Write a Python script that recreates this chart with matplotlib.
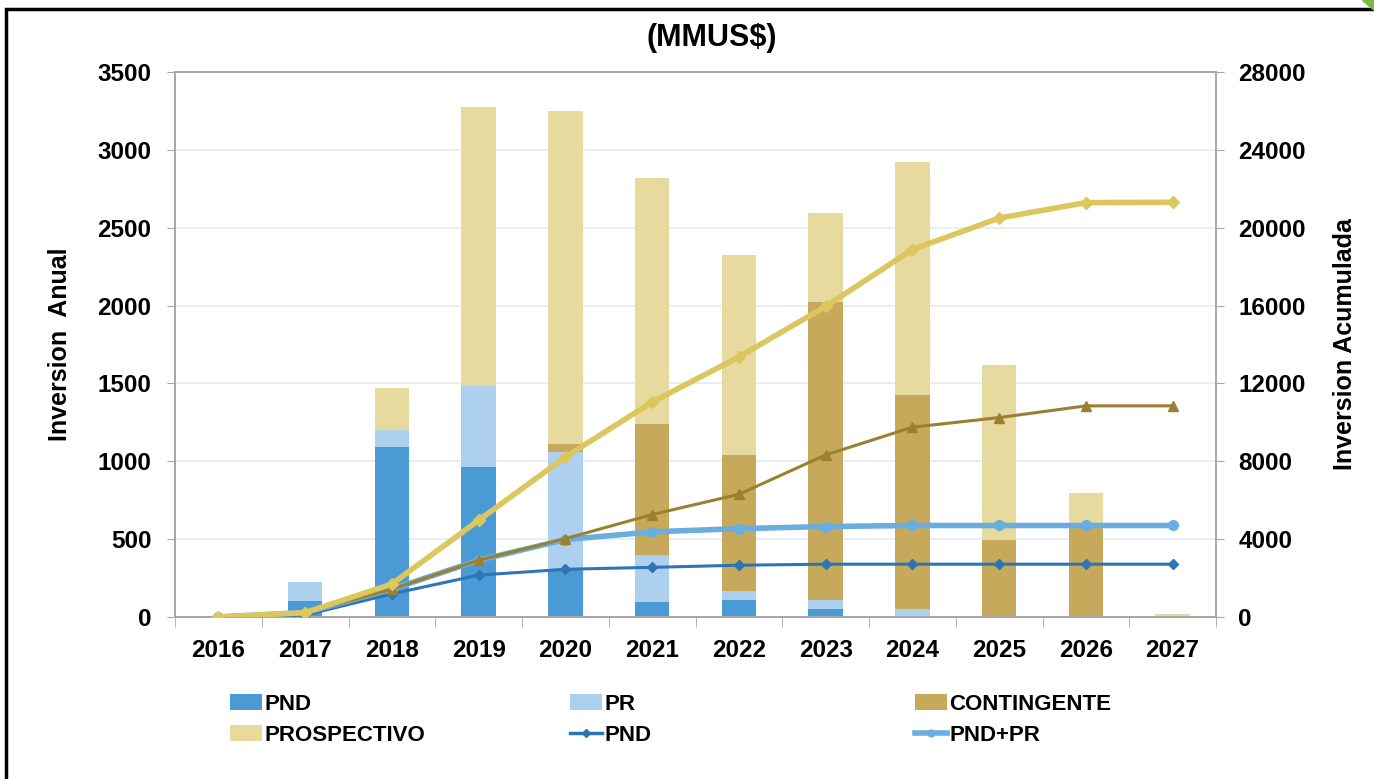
import numpy as np
import matplotlib.pyplot as plt
from matplotlib.patches import Rectangle, Polygon
from matplotlib.lines import Line2D

plt.rcParams['font.family'] = ['Liberation Sans', 'DejaVu Sans']
plt.rcParams['font.weight'] = 'bold'
plt.rcParams['axes.labelweight'] = 'bold'

years = ['2016', '2017', '2018', '2019', '2020', '2021', '2022', '2023', '2024', '2025', '2026', '2027']

# inversion anual (MMUS$)
pnd = [0, 100, 1090, 963, 302, 98, 109, 53, 0, 0, 0, 0]
pr = [0, 125, 113, 523, 760, 300, 56, 56, 53, 0, 0, 0]
contingente = [0, 0, 0, 0, 49, 841, 873, 1916, 1373, 494, 602, 0]
prospectivo = [0, 0, 266, 1787, 2141, 1581, 1285, 568, 1496, 1124, 192, 17]

# inversion acumulada (MMUS$)
acum_pnd = [0, 100, 1188, 2150, 2452, 2551, 2660, 2713, 2713, 2713, 2713, 2713]
acum_pnd_pr = [0, 225, 1428, 2914, 3976, 4374, 4539, 4648, 4701, 4701, 4701, 4701]
acum_cont = [0, 225, 1428, 2914, 4025, 5264, 6302, 8325, 9751, 10245, 10847, 10847]
acum_total = [0, 225, 1694, 4967, 8219, 11039, 13362, 15955, 18877, 20495, 21289, 21306]

c_pnd = '#4a9ad6'
c_pr = '#acd0ee'
c_cont = '#c6a95a'
c_prosp = '#e6da9e'
c_line_pnd = '#2e75b6'
c_line_pndpr = '#6aaee0'
c_line_cont = '#9c7f2f'
c_line_total = '#dcc65e'

fig = plt.figure(figsize=(13.74, 7.79), dpi=100)
ax = fig.add_axes([175 / 1374, 1 - 617 / 779, (1216 - 175) / 1374, (617 - 72) / 779])
ax2 = ax.twinx()

x = np.arange(len(years))
w = 0.40
b1 = ax.bar(x, pnd, w, color=c_pnd, zorder=2)
bottom = np.array(pnd)
b2 = ax.bar(x, pr, w, bottom=bottom, color=c_pr, zorder=2)
bottom = bottom + np.array(pr)
b3 = ax.bar(x, contingente, w, bottom=bottom, color=c_cont, zorder=2)
bottom = bottom + np.array(contingente)
b4 = ax.bar(x, prospectivo, w, bottom=bottom, color=c_prosp, zorder=2)

l1, = ax2.plot(x, acum_pnd, color=c_line_pnd, lw=2.2, marker='D', ms=5, zorder=3)
l2, = ax2.plot(x, acum_pnd_pr, color=c_line_pndpr, lw=4, marker='o', ms=7, zorder=4)
ax2.plot(x, acum_cont, color=c_line_cont, lw=2.2, marker='^', ms=7, zorder=5)
ax2.plot(x, acum_total, color=c_line_total, lw=4, marker='D', ms=6, zorder=6)

ax.set_xlim(-0.5, len(years) - 0.5)
ax.set_ylim(0, 3500)
ax.set_yticks(np.arange(0, 3501, 500))
ax2.set_ylim(0, 28000)
ax2.set_yticks(np.arange(0, 28001, 4000))

ax.set_xticks(x)
ax.set_xticklabels(years)
ax.set_xticks(np.arange(-0.5, len(years)), minor=True)
ax.tick_params(axis='x', which='major', length=0, pad=16, labelsize=17.5)
ax.tick_params(axis='x', which='minor', length=7, color='#a6a6a6')
ax.tick_params(axis='y', length=6, color='#a6a6a6', pad=11, labelsize=17.5)
ax2.tick_params(axis='y', length=6, color='#a6a6a6', pad=10, labelsize=17.5)

ax.grid(axis='y', color='#e6eaf0', lw=1.2, zorder=0)
ax.set_axisbelow(True)
for a in (ax, ax2):
    for s in a.spines.values():
        s.set_color('#a6a6a6')
        s.set_linewidth(1.2)

ax.set_ylabel('Inversion  Anual', fontsize=18, labelpad=18)
ax2.set_ylabel('Inversion Acumulada', fontsize=18, labelpad=20)
fig.text(712 / 1374, 1 - 38 / 779, '(MMUS$)', fontsize=22, ha='center', va='center')

# legend, three columns
h_pnd_line = Line2D([], [], color=c_line_pnd, lw=2.5, marker='D', ms=4)
h_pndpr_line = Line2D([], [], color=c_line_pndpr, lw=4, marker='o', ms=5)
columns = [
    ([b1, b4], ['PND', 'PROSPECTIVO'], 230),
    ([b2, h_pnd_line], ['PR', 'PND'], 570),
    ([b3, h_pndpr_line], ['CONTINGENTE', 'PND+PR'], 915),
]
for handles, labels, xpos in columns:
    fig.legend(handles, labels, loc='upper left', bbox_to_anchor=(xpos / 1374, 1 - 694 / 779),
               frameon=False, fontsize=16, handlelength=1.45, handleheight=0.75,
               handletextpad=0.1, labelspacing=0.45, borderpad=0, borderaxespad=0)

# slide frame
fig.patches.append(Rectangle((6 / 1374, -0.2), 1.2, 1 - 9 / 779 + 0.2, transform=fig.transFigure,
                             fill=False, ec='black', lw=2.5))
fig.patches.append(Polygon([(1362 / 1374, 1), (1.0, 1), (1.0, 1 - 10 / 779)], closed=True,
                           transform=fig.transFigure, color='#7ab648'))

fig.savefig('out.png', dpi=100)
